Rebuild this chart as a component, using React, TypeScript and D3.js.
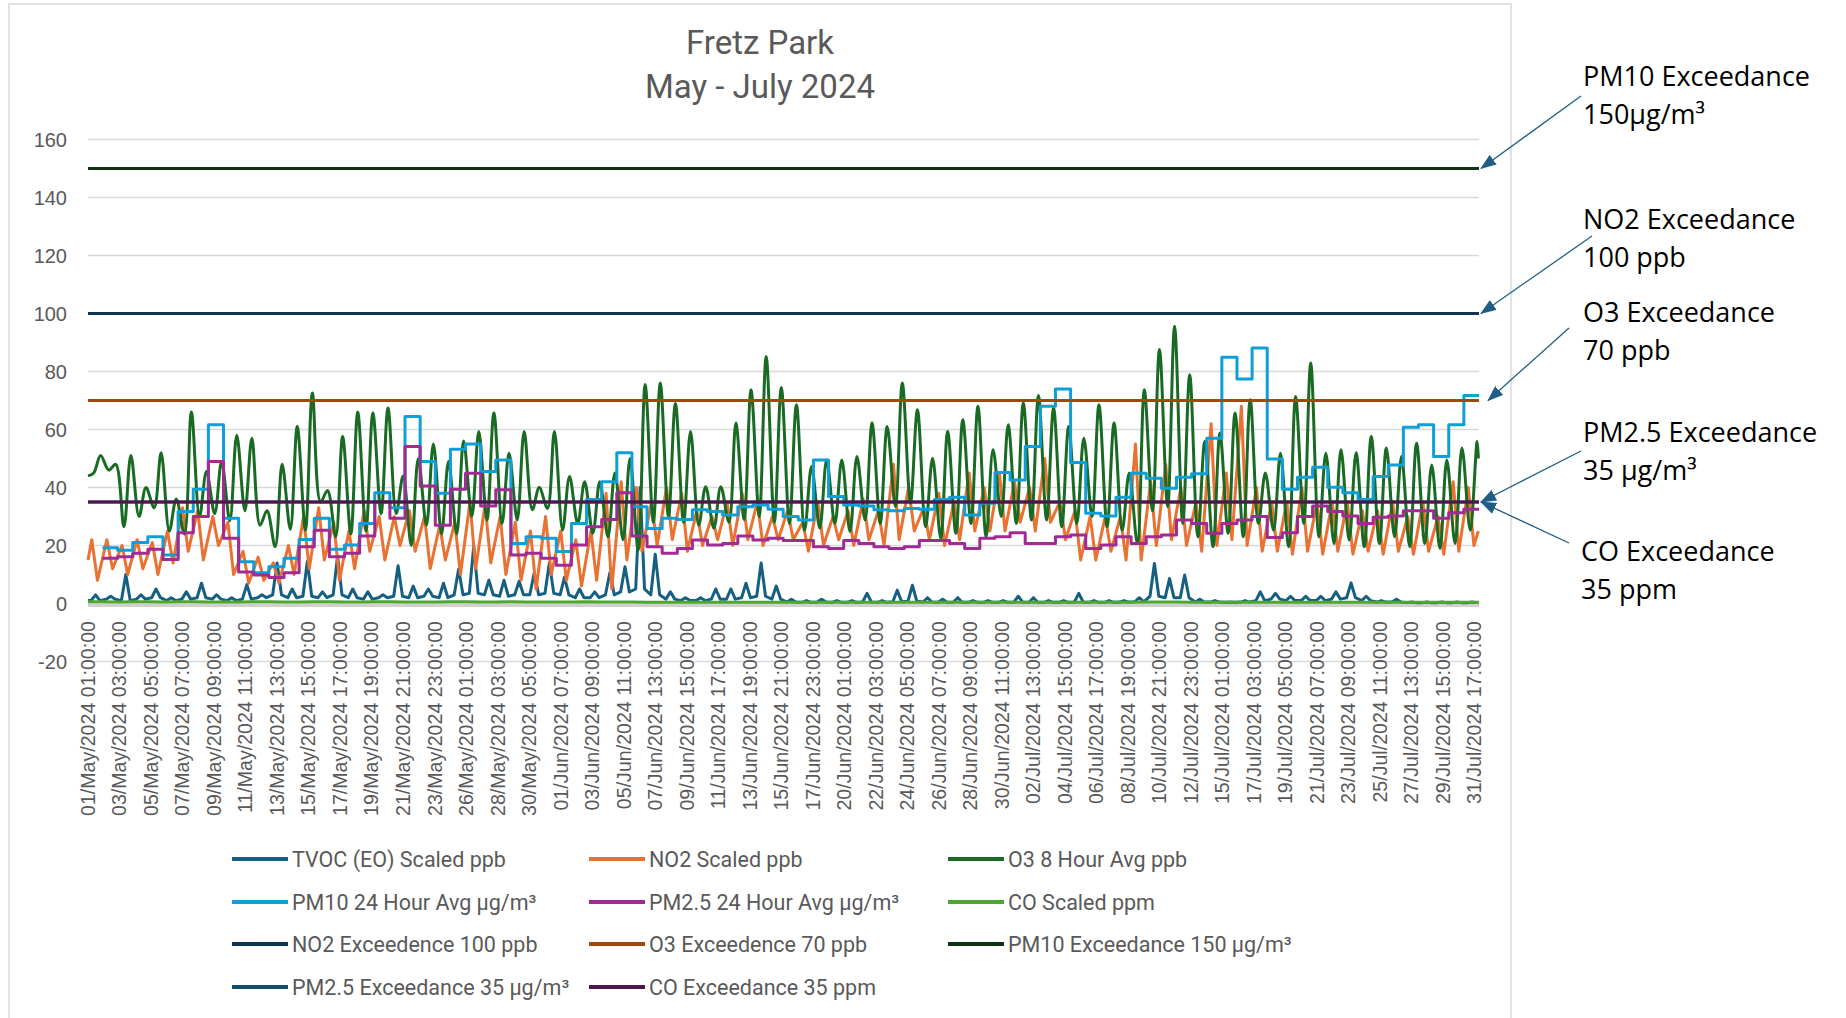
import React from 'react';
import * as d3 from 'd3';

// hourly record: 01/May/2024 01:00 to the end of 31/Jul/2024
const startTime = new Date(2024, 4, 1, 1);
const endTime = new Date(2024, 7, 1, 0);

// daily readings, index 0 = 1 May 2024
const o3Troughs = [
  45, 46, 26.5, 30, 33, 25, 24, 30, 31, 28.5,
  32, 27, 19.6, 25.6, 25.3, 35, 23, 24, 25, 31,
  31, 20, 27, 24, 24, 30, 28.8, 27.6, 28.8, 32.3,
  32.8, 25.3, 27.6, 24.2, 23, 22, 18.4, 28, 30, 28,
  27, 26, 28, 29, 30, 28, 27.6, 25.3, 26, 27.6,
  24.8, 28.8, 27.6, 33.4, 34.6, 26.5, 22.5, 24.2, 27.6, 23,
  30, 27.6, 28.8, 28.8, 26.5, 27.6, 30, 26.5, 25.3, 20.7,
  32, 33.4, 27.6, 23, 19.6, 24.2, 23, 27.6, 25.3, 19.6,
  27.6, 23, 20.7, 21.9, 19.6, 20.7, 23, 19.6, 20.7, 19,
  20.7, 25.3,
];
const o3Peaks = [
  51, 48, 51, 40, 52, 36, 66, 45.5, 49, 58,
  57, 32, 48, 61, 72.6, 39, 57.6, 66, 65.7, 67.4,
  44, 50, 55, 49, 56, 59.3, 65.7, 51.8, 59.3, 40,
  59.3, 43.8, 42, 42, 45, 50, 75.5, 76, 69, 59.3,
  40.3, 40.3, 62.2, 73.7, 85.2, 74.5, 68.5, 47.2, 49.5, 49.5,
  50.7, 62.2, 61, 76, 66.8, 50.1, 59.3, 63.4, 68, 53,
  61.6, 69.1, 71.7, 67.4, 61, 57, 68.5, 62.2, 45, 73.7,
  87.6, 95.6, 78.9, 55.9, 58.8, 65.7, 70.3, 45, 51.8, 71.4,
  82.9, 51.8, 53, 52, 57.6, 53.6, 50.7, 55.3, 47.8, 49.5,
  53.6, 55.9,
];
const o3Ends = [44, 50];

const no2Highs = [
  22, 22, 20, 22, 21, 25, 33, 32, 30, 28,
  18, 16, 14, 20, 30, 33, 28, 25, 32, 30,
  30, 32, 30, 27, 28, 35, 34, 30, 28, 25,
  30, 25, 22, 25, 38, 42, 40, 35, 40, 38,
  32, 30, 35, 38, 35, 30, 32, 28, 35, 30,
  32, 36, 32, 48, 40, 33, 38, 35, 45, 40,
  45, 42, 40, 50, 35, 32, 30, 30, 30, 55,
  42, 48, 40, 35, 62, 45, 68, 40, 35, 35,
  40, 35, 35, 35, 32, 32, 35, 30, 35, 30,
  42, 40,
];
const no2Lows = [
  8, 12, 10, 12, 10, 14, 18, 15, 20, 10,
  7, 8, 7, 10, 12, 15, 8, 12, 18, 15,
  20, 18, 12, 15, 10, 12, 14, 10, 8, 5,
  10, 8, 6, 8, 5, 15, 18, 20, 22, 18,
  20, 22, 20, 22, 20, 22, 22, 18, 20, 22,
  20, 22, 20, 22, 25, 22, 20, 22, 25, 25,
  25, 28, 25, 28, 22, 15, 15, 18, 15, 15,
  20, 22, 20, 18, 20, 22, 20, 18, 18, 17,
  18, 17, 18, 17, 18, 17, 18, 17, 18, 17,
  18, 20,
];
const no2Ends = [15, 25];

const tvocPeaks = [
  3, 2.5, 10, 3, 5, 2, 4, 7, 3, 2,
  6.5, 3, 14, 5, 14.5, 4, 16.4, 5, 4, 3,
  13, 6, 5, 7, 11.8, 19.8, 8, 8, 7.7, 10.6,
  14, 9, 5, 4, 10.6, 12.7, 40, 17, 4, 2,
  2, 5, 5, 7, 14, 6, 1.5, 1, 1.5, 1,
  1, 3.5, 1, 4.6, 6.3, 2, 1.5, 2, 1, 1,
  1, 2.5, 2, 1, 1, 3.5, 1, 1, 1, 2,
  13.8, 8.6, 9.8, 1.5, 1, 0.5, 1, 4, 3.5, 2.5,
  2.5, 2.5, 4, 7.1, 2.5, 1, 1.5, 0.5, 0.5, 0.5,
  0.5, 0.5,
];
const tvocBase = [
  1, 1.5, 1, 1.5, 2, 1, 1.5, 2, 1.5, 1,
  1.5, 2, 3, 2, 2.5, 2, 3, 2, 1.5, 2,
  2.5, 2, 2.5, 2, 3, 3.5, 3, 2.5, 3, 3,
  3.5, 3, 2, 2, 3, 4, 5, 3, 1.5, 1,
  1, 1.5, 1.5, 2, 2.5, 1.5, 0.5, 0.4, 0.5, 0.4,
  0.4, 0.5, 0.4, 0.6, 0.8, 0.5, 0.4, 0.4, 0.4, 0.4,
  0.4, 0.5, 0.4, 0.4, 0.4, 0.5, 0.4, 0.4, 0.5, 0.6,
  2.5, 2, 2, 0.5, 0.5, 0.4, 0.5, 1, 1.5, 1,
  1, 1, 1.5, 2, 1, 0.5, 0.5, 0.3, 0.3, 0.3,
  0.3, 0.3,
];

const pm10Avg = [
  null, 19.2, 18.4, 21, 23, 16.7, 31.7, 39.4, 61.6, 29.4,
  14.4, 10.6, 12.7, 15.6, 22.1, 29.4, 18.7, 20.2, 27.6, 38.2,
  33, 64.5, 49, 38, 53.2, 55, 45.5, 49.5, 20.7, 23,
  22.5, 17.9, 27.6, 35.9, 42, 52, 33.4, 25.9, 29.4, 29,
  32.3, 31.7, 30.5, 33.4, 34, 32.5, 30, 28.8, 49.5, 36.9,
  34, 33.6, 32.3, 32, 32.8, 32.5, 35.9, 36.6, 30.5, 34.6,
  45.2, 42.6, 54.1, 68, 74, 48.6, 31.1, 30.2, 36.6, 44.9,
  43.2, 39.7, 43.5, 44.7, 57, 84.9, 77.4, 88.1, 49.8, 39.4,
  43.5, 47, 40.1, 38.2, 35.9, 43.8, 47.8, 60.8, 61.6, 50.7,
  61.6, 71.7,
];
const pm25Avg = [
  null, 15.6, 16.1, 17.3, 18.7, 15.2, 24.4, 30, 49, 22.5,
  10.9, 9.8, 9, 10.6, 19.6, 25.3, 16.1, 17.3, 23.3, 35.1,
  29.4, 54.1, 40.5, 27, 39.4, 44.9, 33.6, 39.2, 16.7, 17.3,
  15.6, 13.2, 20.2, 26.5, 29, 38.2, 23.3, 19.6, 17.3, 19,
  21.9, 20.2, 20.7, 23.3, 21.9, 22.5, 21.7, 21.7, 19.6, 19,
  21.7, 20.7, 19.6, 19, 19.6, 21.7, 21.7, 20.7, 19, 22.5,
  23, 24.4, 20.7, 20.7, 23, 23.6, 19, 20.2, 23, 20.7,
  23, 23.6, 28.8, 27.6, 24.2, 27.6, 28.8, 30, 22.8, 24.4,
  30, 33.6, 31.7, 30.2, 27.6, 29.7, 30.2, 32, 32, 29.4,
  31.3, 32.5,
];
const coScaled = [
  0.6, 0.6, 0.5, 0.6, 0.6, 0.5, 0.6, 0.6, 0.5, 0.5,
  0.5, 0.6, 0.6, 0.5, 0.5, 0.6, 0.6, 0.5, 0.5, 0.6,
  0.6, 0.5, 0.5, 0.5, 0.6, 0.6, 0.5, 0.5, 0.6, 0.5,
  0.5, 0.5, 0.5, 0.6, 0.5, 0.5, 0.5, 0.4, 0.4, 0.4,
  0.4, 0.4, 0.4, 0.4, 0.4, 0.4, 0.4, 0.4, 0.4, 0.4,
  0.4, 0.4, 0.4, 0.4, 0.4, 0.4, 0.4, 0.4, 0.4, 0.4,
  0.4, 0.4, 0.4, 0.4, 0.4, 0.4, 0.4, 0.4, 0.4, 0.4,
  0.5, 0.5, 0.5, 0.4, 0.4, 0.4, 0.4, 0.4, 0.4, 0.4,
  0.4, 0.4, 0.4, 0.4, 0.4, 0.4, 0.4, 0.4, 0.4, 0.4,
  0.4, 0.4,
];

// limit lines: NO2, O3, PM10, PM2.5, CO
const limitValues = [100, 70, 150, 35, 35];
const limitColors = ['#0E3550', '#A2470F', '#0D3512', '#124E6B', '#501549'];

const seriesNames = [
  'TVOC (EO) Scaled ppb', 'NO2 Scaled ppb', 'O3 8 Hour Avg ppb',
  'PM10 24 Hour Avg µg/m³', 'PM2.5 24 Hour Avg µg/m³', 'CO Scaled ppm',
  'NO2 Exceedence 100 ppb', 'O3 Exceedence 70 ppb', 'PM10 Exceedance 150 µg/m³',
  'PM2.5 Exceedance 35 µg/m³', 'CO Exceedance 35 ppm',
];
const seriesColors = ['#156082', '#E97132', '#196B24', '#0F9ED5', '#A02B93', '#4EA72E', ...limitColors];

const yTickValues = [-20, 0, 20, 40, 60, 80, 100, 120, 140, 160];

const notes = [
  { lines: ['PM10 Exceedance', '150µg/m³'], limit: 150, tail: [1581, 96], tx: 1583, ty: 86 },
  { lines: ['NO2 Exceedance', '100 ppb'], limit: 100, tail: [1592, 236], tx: 1583, ty: 229 },
  { lines: ['O3 Exceedance', '70 ppb'], limit: 70, tail: [1569, 328], tx: 1583, ty: 322, dx: 7 },
  { lines: ['PM2.5 Exceedance', '35 µg/m³'], limit: 35, tail: [1581, 451], tx: 1583, ty: 442 },
  { lines: ['CO Exceedance', '35 ppm'], limit: 35, tail: [1569, 543], tx: 1581, ty: 561 },
];

type Pt = [Date, number];
const at = (d: number, h: number) => new Date(2024, 4, 1 + d, h);

const App = () => {
  const width = 1846;
  const height = 1018;
  const x = d3.scaleTime().domain([startTime, endTime]).range([88, 1479]);
  const y = d3.scaleLinear().domain([-20, 160]).range([661.5, 139.5]);

  const line = d3.line<Pt>().x(d => x(d[0])).y(d => y(d[1]));
  const smooth = d3.line<Pt>().x(d => x(d[0])).y(d => y(d[1])).curve(d3.curveCatmullRom.alpha(0.5));
  const step = d3.line<Pt>().x(d => x(d[0])).y(d => y(d[1])).curve(d3.curveStepAfter);

  const tvocPts: Pt[] = [[startTime, tvocBase[0]], ...tvocPeaks.flatMap((v, i) =>
    [[at(i, 6), tvocBase[i]], [at(i, 13), v], [at(i, 20), tvocBase[i]]] as Pt[])];
  const no2Pts: Pt[] = [[startTime, no2Ends[0]], ...no2Highs.flatMap((v, i) =>
    [[at(i, 7), v], [at(i, 16), no2Lows[i]]] as Pt[]), [at(91, 23), no2Ends[1]]];
  const o3Pts: Pt[] = [[startTime, o3Ends[0]], ...o3Troughs.flatMap((v, i) =>
    [[at(i, 10), v], [at(i, 21), o3Peaks[i]]] as Pt[]), [at(91, 23), o3Ends[1]]];
  const daily = (arr: (number | null)[]): Pt[] => {
    const pts = arr.map((v, i) => (v == null ? null : [at(i, 0), v])).filter(Boolean) as Pt[];
    return [...pts, [endTime, pts[pts.length - 1][1]]];
  };
  const coPts: Pt[] = [[startTime, coScaled[0]], ...daily(coScaled).slice(1)];

  const xTicks = d3.range(45).map(i => d3.timeHour.offset(startTime, i * 50));
  const fmt = d3.timeFormat('%d/%b/%Y %H:%M:%S');

  const legendX = [232, 589, 948];
  const legendY = [859, 902, 944, 987];

  return (
    <svg width={width} height={height} style={{ position: 'absolute', left: 0, top: 0, background: '#fff' }}>
      <defs>
        <marker id="arrow" viewBox="0 0 16 12" refX="15" refY="6" markerWidth="16" markerHeight="12"
          markerUnits="userSpaceOnUse" orient="auto">
          <path d="M0,0 L16,6 L0,12 z" fill="#1F5F86" />
        </marker>
      </defs>
      <rect x={9} y={4} width={1502} height={1030} fill="#fff" stroke="#d9d9d9" strokeWidth={1.5} />

      <text x={760} y={54} textAnchor="middle" fontFamily="Roboto, sans-serif" fontSize={33} fill="#595959">Fretz Park</text>
      <text x={760} y={98} textAnchor="middle" fontFamily="Roboto, sans-serif" fontSize={33} fill="#595959">May - July 2024</text>

      {yTickValues.map(v => (
        <g key={v}>
          <line x1={88} x2={1479} y1={y(v)} y2={y(v)} stroke="#d9d9d9" strokeWidth={1.5} />
          <text x={67} y={y(v)} dy="0.35em" textAnchor="end" fontFamily="Liberation Sans, Arial, sans-serif"
            fontSize={20} fill="#595959">{v}</text>
        </g>
      ))}
      <line x1={88} x2={1479} y1={y(0) + 2} y2={y(0) + 2} stroke="#d0d0d0" strokeWidth={3} />

      {xTicks.map((t, i) => (
        <text key={i} transform={`translate(${x(t)},621) rotate(-90)`} dy="0.35em" textAnchor="end"
          fontFamily="Liberation Sans, Arial, sans-serif" fontSize={19.6} fill="#595959">{fmt(t)}</text>
      ))}

      <g fill="none" strokeWidth={3} strokeLinejoin="round">
        <path d={line(tvocPts) ?? ''} stroke={seriesColors[0]} />
        <path d={line(no2Pts) ?? ''} stroke={seriesColors[1]} />
        <path d={smooth(o3Pts) ?? ''} stroke={seriesColors[2]} />
        <path d={step(daily(pm10Avg)) ?? ''} stroke={seriesColors[3]} />
        <path d={step(daily(pm25Avg)) ?? ''} stroke={seriesColors[4]} />
        <path d={line(coPts) ?? ''} stroke={seriesColors[5]} />
        {limitValues.map((v, i) => (
          <path key={i} d={line([[startTime, v], [endTime, v]]) ?? ''} stroke={limitColors[i]} />
        ))}
      </g>

      {notes.map((n, i) => (
        <g key={i}>
          <line x1={n.tail[0]} y1={n.tail[1]} x2={1481 + (n.dx ?? 0)} y2={y(n.limit)}
            stroke="#1F5F86" strokeWidth={1.3} markerEnd="url(#arrow)" />
          {n.lines.map((s, j) => (
            <text key={j} x={n.tx} y={n.ty + j * 38} fontFamily="Open Sans, sans-serif" fontSize={27} fill="#000">{s}</text>
          ))}
        </g>
      ))}

      {seriesNames.map((name, i) => {
        const lx = legendX[i % 3];
        const ly = legendY[Math.floor(i / 3)];
        return (
          <g key={name}>
            <line x1={lx} x2={lx + 56} y1={ly} y2={ly} stroke={seriesColors[i]} strokeWidth={4} />
            <text x={lx + 60} y={ly} dy="0.35em" fontFamily="Roboto, sans-serif" fontSize={21.5} fill="#595959">{name}</text>
          </g>
        );
      })}
    </svg>
  );
};

export default App;
